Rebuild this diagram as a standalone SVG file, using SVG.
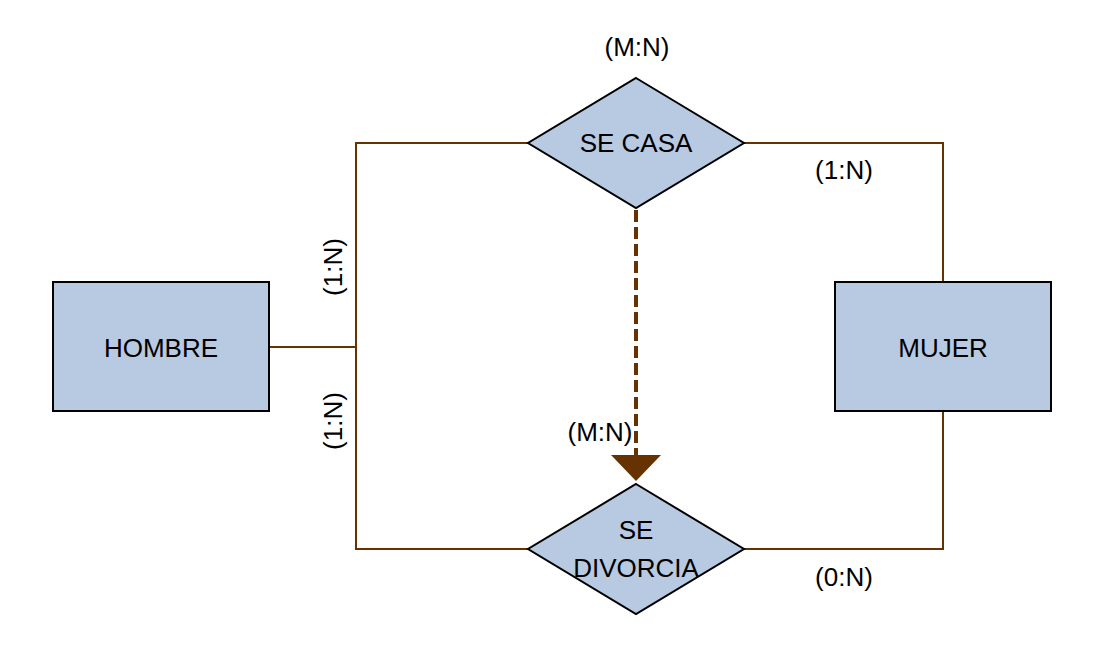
<svg xmlns="http://www.w3.org/2000/svg" width="1109" height="654" viewBox="0 0 1109 654">
<style>
.ent{fill:#b8c9e2;stroke:#000;stroke-width:2}
.rel{fill:#b8c9e2;stroke:#000;stroke-width:2}
.t{font-family:"Liberation Sans",Arial,sans-serif;font-size:26px;fill:#000;text-anchor:middle}
.c{fill:none;stroke:#663300;stroke-width:2}
.d{fill:none;stroke:#663300;stroke-width:4;stroke-dasharray:12 5}
</style>
<rect width="1109" height="654" fill="#fff"/>
<g id="connectors">
<polyline class="c" points="269,347 356,347"/>
<polyline class="c" points="528,143 356,143 356,549 528,549"/>
<polyline class="c" points="744,143 943,143 943,282"/>
<polyline class="c" points="943,411 943,549 744,549"/>
<line class="d" x1="636" y1="210" x2="636" y2="456"/>
<polygon points="611,455 661,455 636,481" fill="#663300"/>
</g>
<g id="labels">
<text class="t" x="637" y="56">(M:N)</text>
<text class="t" x="844" y="179">(1:N)</text>
<text class="t" x="844" y="586">(0:N)</text>
<text class="t" x="600" y="441">(M:N)</text>
<text class="t" transform="translate(333,267) rotate(-90)" dominant-baseline="central">(1:N)</text>
<text class="t" transform="translate(333,421) rotate(-90)" dominant-baseline="central">(1:N)</text>
</g>
<g id="hombre">
<rect class="ent" x="53" y="282" width="216" height="129"/>
<text class="t" x="161" y="357">HOMBRE</text>
</g>
<g id="mujer">
<rect class="ent" x="835" y="282" width="216" height="129"/>
<text class="t" x="943" y="357">MUJER</text>
</g>
<g id="se-casa">
<polygon class="rel" points="636,78 744,143 636,208 528,143"/>
<text class="t" x="636" y="152">SE CASA</text>
</g>
<g id="se-divorcia">
<polygon class="rel" points="636,484 744,549 636,614 528,549"/>
<text class="t" x="636" y="539">SE</text>
<text class="t" x="636" y="577">DIVORCIA</text>
</g>
</svg>
